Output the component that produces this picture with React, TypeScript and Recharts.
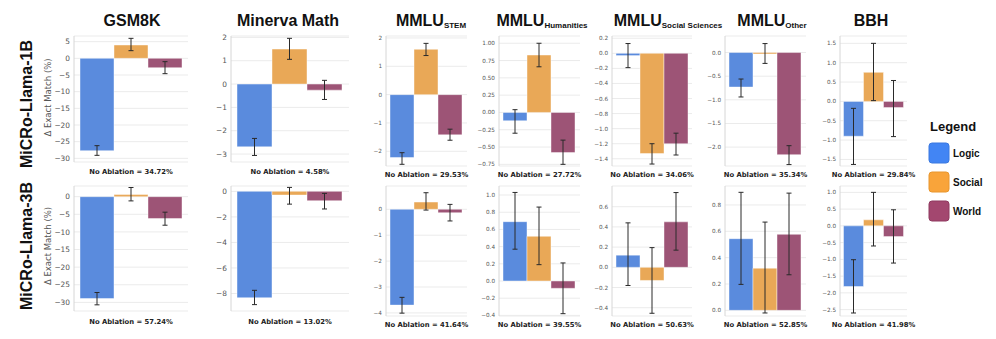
import React from 'react';
import { BarChart, Bar, XAxis, YAxis, CartesianGrid, ErrorBar } from 'recharts';

// ---------- data ----------
const benchmarks = ['GSM8K', 'Minerva Math', 'MMLU', 'MMLU', 'MMLU', 'MMLU', 'BBH'];
const subscripts = ['', '', 'STEM', 'Humanities', 'Social Sciences', 'Other', ''];
const seriesNames = ['Logic', 'Social', 'World'];
const rowNames = ['MiCRo-Llama-1B', 'MiCRo-Llama-3B'];

// MiCRo-Llama-1B  (Δ exact match, %)
const logic1B = [-27.7, -2.69, -2.22, -0.12, -0.03, -0.73, -0.9];
const logic1BLo = [-29.1, -3.06, -2.46, -0.3, -0.19, -0.94, -1.63];
const logic1BHi = [-26.2, -2.33, -2.05, 0.04, 0.13, -0.56, -0.18];
const social1B = [4.0, 1.5, 1.6, 0.83, -1.33, -0.03, 0.75];
const social1BLo = [2.3, 1.06, 1.38, 0.66, -1.47, -0.23, 0.02];
const social1BHi = [6.0, 1.96, 1.81, 1.0, -1.2, 0.19, 1.5];
const world1B = [-2.8, -0.26, -1.42, -0.58, -1.2, -2.16, -0.16];
const world1BLo = [-4.6, -0.66, -1.61, -0.75, -1.35, -2.37, -0.91];
const world1BHi = [-1.0, 0.16, -1.22, -0.4, -1.06, -1.97, 0.54];

// MiCRo-Llama-3B
const logic3B = [-28.9, -8.33, -3.7, 0.69, 0.12, 0.544, -1.81];
const logic3BLo = [-30.7, -8.87, -4.01, 0.37, -0.18, 0.197, -2.6];
const logic3BHi = [-27.2, -7.75, -3.4, 1.03, 0.44, 0.896, -1.01];
const social3B = [0.6, -0.29, 0.28, 0.52, -0.13, 0.32, 0.18];
const social3BLo = [-1.2, -1.0, -0.03, 0.19, -0.455, -0.02, -0.6];
const social3BHi = [2.6, 0.31, 0.64, 0.86, 0.195, 0.67, 1.0];
const world3B = [-6.2, -0.73, -0.13, -0.085, 0.45, 0.577, -0.32];
const world3BLo = [-8.1, -1.38, -0.45, -0.38, 0.17, 0.27, -1.11];
const world3BHi = [-4.4, -0.16, 0.19, 0.21, 0.74, 0.89, 0.48];

const noAblation1B = ['34.72%', '4.58%', '29.53%', '27.72%', '34.06%', '35.34%', '29.84%'];
const noAblation3B = ['57.24%', '13.02%', '41.64%', '39.55%', '50.63%', '52.85%', '41.98%'];

// axes
const domains1B: [number, number][] = [
  [-31.1, 6.7], [-3.34, 2.06], [-2.52, 2.07], [-0.774, 1.105], [-1.496, 0.23], [-2.4, 0.35], [-1.67, 1.69],
];
const domains3B: [number, number][] = [
  [-32.45, 3.03], [-9.37, 0.42], [-4.12, 0.9], [-0.407, 1.105], [-0.482, 0.805], [-0.043, 0.944], [-2.69, 1.19],
];
const ticks1B = [
  [5, 0, -5, -10, -15, -20, -25, -30],
  [2, 1, 0, -1, -2, -3],
  [2, 1, 0, -1, -2],
  [1, 0.75, 0.5, 0.25, 0, -0.25, -0.5, -0.75],
  [0.2, 0, -0.2, -0.4, -0.6, -0.8, -1.0, -1.2, -1.4],
  [0, -0.5, -1.0, -1.5, -2.0],
  [1.5, 1.0, 0.5, 0, -0.5, -1.0, -1.5],
];
const ticks3B = [
  [0, -5, -10, -15, -20, -25, -30],
  [0, -2, -4, -6, -8],
  [0, -1, -2, -3, -4],
  [1.0, 0.8, 0.6, 0.4, 0.2, 0, -0.2, -0.4],
  [0.6, 0.4, 0.2, 0, -0.2, -0.4],
  [0, 0.2, 0.4, 0.6, 0.8],
  [1.0, 0.5, 0, -0.5, -1.0, -1.5, -2.0, -2.5],
];
const decimals1B = [0, 0, 0, 2, 1, 1, 1];
const decimals3B = [0, 0, 0, 1, 1, 1, 1];

// ---------- layout / style ----------
const BAR_COLORS = ['#5A8BDD', '#E9A857', '#9D5476'];
const LEGEND_COLORS = ['#4285F4', '#F9A43A', '#A3476F'];
const LEGEND_STROKES = ['#3b79e0', '#e8962e', '#8f3a60'];
const COL_LEFT = [74, 231, 386, 499, 612, 725, 840];
const COL_RIGHT = [188, 349, 467, 580, 692, 806, 907];
const COL_GAP = [6, 6, 4, 4, 4, 4, 3.5];
const TITLE_X = [132, 288, 431, 542, 668, 772, 871];
const ROW_TOP = [36, 186];
const ROW_BOTTOM = [[162, 166], [311, 316]];
const NOABL_Y = [[173.5, 176.5], [323.8, 326.8]];
const AXW = 36;
const PAD = 8;

const rows = [
  {
    vals: [logic1B, social1B, world1B],
    lo: [logic1BLo, social1BLo, world1BLo],
    hi: [logic1BHi, social1BHi, world1BHi],
    domains: domains1B, ticks: ticks1B, decimals: decimals1B, noAbl: noAblation1B,
  },
  {
    vals: [logic3B, social3B, world3B],
    lo: [logic3BLo, social3BLo, world3BLo],
    hi: [logic3BHi, social3BHi, world3BHi],
    domains: domains3B, ticks: ticks3B, decimals: decimals3B, noAbl: noAblation3B,
  },
];

const KEYS = ['logic', 'social', 'world'];

function Panel({ row, col }: { row: number; col: number }) {
  const r = rows[row];
  const d: any = { name: benchmarks[col] };
  KEYS.forEach((k, i) => {
    const v = r.vals[i][col];
    d[k] = v;
    d[k + 'Err'] = [v - r.lo[i][col], r.hi[i][col] - v];
  });
  const left = COL_LEFT[col];
  const right = COL_RIGHT[col];
  const top = ROW_TOP[row];
  const bottom = ROW_BOTTOM[row][col < 2 ? 0 : 1];
  const w = right - left;
  const h = bottom - top;
  const dec = r.decimals[col];
  const fs = col < 2 ? 7.4 : 5.7;
  const fmt = (v: number) => (v < 0 ? '\u2212' : '') + Math.abs(v).toFixed(dec);
  return (
    <div style={{ position: 'absolute', left: left - AXW, top: top - PAD }}>
      <BarChart
        width={w + AXW + 2}
        height={h + 2 * PAD}
        data={[d]}
        margin={{ top: PAD, right: 2, bottom: PAD, left: 0 }}
        barCategoryGap={COL_GAP[col]}
        barGap={0}
      >
        <CartesianGrid vertical={false} stroke="#ebebeb" strokeWidth={1} />
        <XAxis dataKey="name" tick={false} tickLine={false} axisLine={{ stroke: '#d6d6d6' }} height={0} />
        <YAxis
          type="number"
          domain={r.domains[col]}
          ticks={r.ticks[col]}
          allowDataOverflow
          interval={0}
          width={AXW}
          tickLine={false}
          tickSize={3}
          tickMargin={1}
          axisLine={{ stroke: '#d6d6d6' }}
          tick={{ fontSize: fs, fill: '#555', fontFamily: 'DejaVu Sans' }}
          tickFormatter={fmt}
        />
        {KEYS.map((k, i) => (
          <Bar
            key={k}
            dataKey={k}
            name={seriesNames[i]}
            fill={BAR_COLORS[i]}
            stroke="#ffffff"
            strokeOpacity={0.55}
            strokeWidth={0.8}
            isAnimationActive={false}
          >
            <ErrorBar
              dataKey={k + 'Err'}
              direction="y"
              width={2.5}
              stroke="#2a2a2a"
              strokeWidth={1}
              isAnimationActive={false}
            />
          </Bar>
        ))}
      </BarChart>
    </div>
  );
}

function TextLayer() {
  const title = 'Liberation Sans, Arial, sans-serif';
  return (
    <svg width={996} height={339} style={{ position: 'absolute', left: 0, top: 0 }}>
      {benchmarks.map((b, c) => (
        <text key={'t' + c} x={TITLE_X[c]} y={26} textAnchor="middle" fontFamily={title} fontWeight="bold" fontSize={16} fill="#111">
          {b}
          {subscripts[c] ? (
            <tspan fontSize={8} dy={1.5}>{subscripts[c]}</tspan>
          ) : null}
        </text>
      ))}
      {rowNames.map((n, i) => (
        <text key={'r' + i} transform={`translate(31.5,${i === 0 ? 104 : 246}) rotate(-90)`} textAnchor="middle" fontFamily={title} fontWeight="bold" fontSize={16} fill="#111">
          {n}
        </text>
      ))}
      {[97.5, 246].map((y, i) => (
        <text key={'yl' + i} transform={`translate(50.5,${y}) rotate(-90)`} textAnchor="middle" fontFamily="DejaVu Sans" fontSize={8.5} fill="#555">
          Δ Exact Match (%)
        </text>
      ))}
      {rows.map((r, ri) =>
        r.noAbl.map((v, c) => (
          <text key={'n' + ri + c} x={(COL_LEFT[c] + COL_RIGHT[c]) / 2} y={NOABL_Y[ri][c < 2 ? 0 : 1]} textAnchor="middle" fontFamily="DejaVu Sans" fontWeight="bold" fontSize={6.8} fill="#222">
            {`No Ablation = ${v}`}
          </text>
        ))
      )}
      <text x={930} y={130.5} fontFamily={title} fontWeight="bold" fontSize={13} fill="#111">Legend</text>
      {seriesNames.map((s, i) => (
        <g key={'lg' + i}>
          <rect x={929} y={143 + i * 29} width={20} height={20} rx={3} fill={LEGEND_COLORS[i]} stroke={LEGEND_STROKES[i]} strokeWidth={1} />
          <text x={953} y={156.5 + i * 29} fontFamily={title} fontWeight="bold" fontSize={10} fill="#111">{s}</text>
        </g>
      ))}
    </svg>
  );
}

export default function App() {
  return (
    <div style={{ position: 'absolute', left: 0, top: 0, width: 996, height: 339, background: '#fff', overflow: 'hidden' }}>
      <TextLayer />
      {[0, 1].map((row) => benchmarks.map((_, col) => <Panel key={row + '-' + col} row={row} col={col} />))}
    </div>
  );
}
